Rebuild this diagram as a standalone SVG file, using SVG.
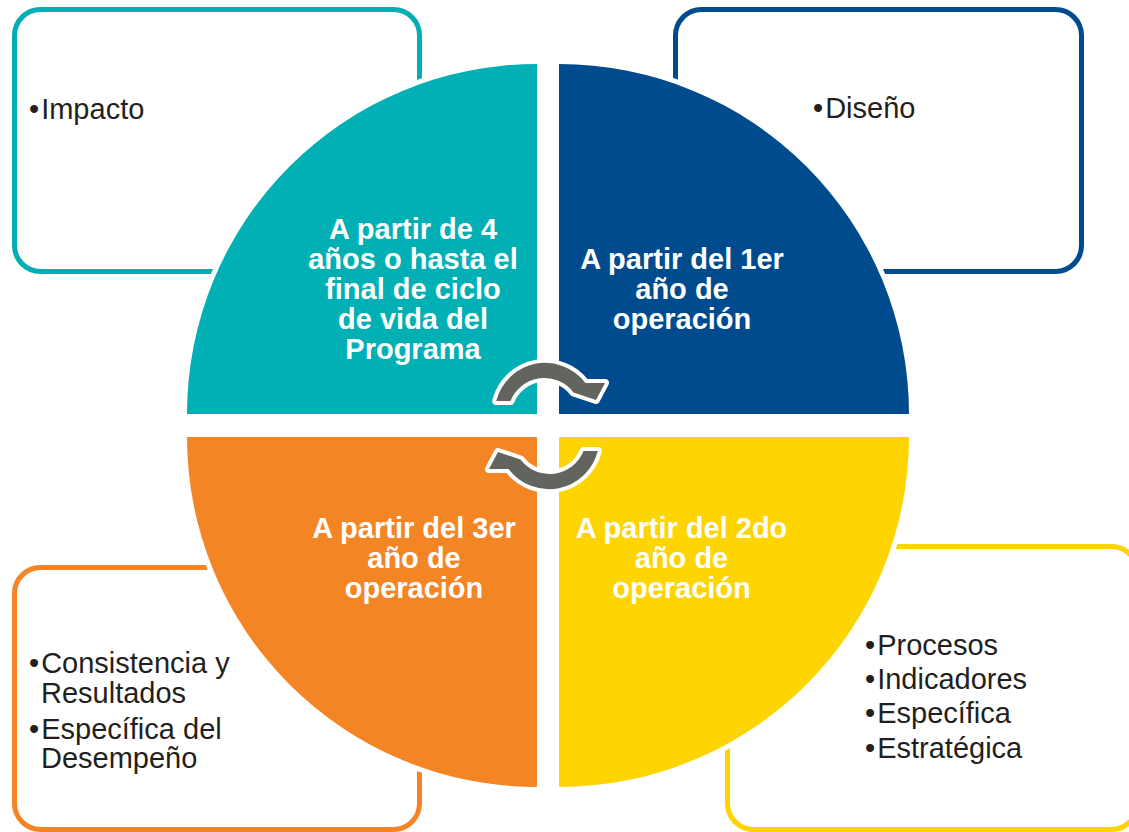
<svg xmlns="http://www.w3.org/2000/svg" width="1129" height="832" viewBox="0 0 1129 832">
<style>
.box{fill:#fff;stroke-width:5}
.q{stroke:#fff;stroke-width:10;paint-order:stroke}
.qt{font-family:"Liberation Sans",Arial,sans-serif;font-weight:bold;font-size:29px;fill:#fff;text-anchor:middle}
.bt{font-family:"Liberation Sans",Arial,sans-serif;font-size:29px;fill:#231f20}
.arr{fill:#62645e;stroke:#fff;stroke-width:8;stroke-linejoin:round;paint-order:stroke}
</style>
<rect width="1129" height="832" fill="#fff"/>
<g id="box-impacto">
<rect class="box" x="14.5" y="9.5" width="405" height="262" rx="26" stroke="#00aeb3"/>
<text class="bt" x="29" y="119">•<tspan dx="2">Impacto</tspan></text>
</g>
<g id="box-diseno">
<rect class="box" x="675.5" y="9.5" width="406" height="262" rx="26" stroke="#004b8d"/>
<text class="bt" x="813" y="118">•<tspan dx="2">Diseño</tspan></text>
</g>
<g id="box-consistencia">
<rect class="box" x="14.5" y="567.5" width="405" height="262" rx="26" stroke="#f58426"/>
<text class="bt" x="29" y="673">•<tspan dx="2">Consistencia y</tspan><tspan x="41" y="703">Resultados</tspan></text>
<text class="bt" x="29" y="739">•<tspan dx="2">Específica del</tspan><tspan x="41" y="768">Desempeño</tspan></text>
</g>
<g id="box-procesos">
<rect class="box" x="727.5" y="546.5" width="410" height="283" rx="26" stroke="#ffd200"/>
<text class="bt" x="865" y="655">•<tspan dx="2">Procesos</tspan></text>
<text class="bt" x="865" y="689">•<tspan dx="2">Indicadores</tspan></text>
<text class="bt" x="865" y="723">•<tspan dx="2">Específica</tspan></text>
<text class="bt" x="865" y="758">•<tspan dx="2">Estratégica</tspan></text>
</g>
<g id="q-4anos">
<path class="q" d="M537,414 L187,414 A350,350 0 0 1 537,64 Z" fill="#00b0b5"/>
<text class="qt" x="413" y="239">A partir de 4</text>
<text class="qt" x="413" y="269">años o hasta el</text>
<text class="qt" x="413" y="299">final de ciclo</text>
<text class="qt" x="413" y="329">de vida del</text>
<text class="qt" x="413" y="359">Programa</text>
</g>
<g id="q-1er">
<path class="q" d="M559,414 L559,64 A350,350 0 0 1 909,414 Z" fill="#004b8d"/>
<text class="qt" x="682" y="269">A partir del 1er</text>
<text class="qt" x="682" y="299">año de</text>
<text class="qt" x="682" y="329">operación</text>
</g>
<g id="q-2do">
<path class="q" d="M559,437 L909,437 A350,350 0 0 1 559,787 Z" fill="#fed401"/>
<text class="qt" x="681.5" y="538">A partir del 2do</text>
<text class="qt" x="681.5" y="568">año de</text>
<text class="qt" x="681.5" y="598">operación</text>
</g>
<g id="q-3er">
<path class="q" d="M537,437 L537,787 A350,350 0 0 1 187,437 Z" fill="#f48524"/>
<text class="qt" x="414" y="538">A partir del 3er</text>
<text class="qt" x="414" y="568">año de</text>
<text class="qt" x="414" y="598">operación</text>
</g>
<g id="connectors">
<path id="arrow-top" class="arr" d="M496.2,401 A50.5,50.5 0 0 1 585.5,383 L605,383 L596,400 L573.5,392.5 A36.5,36.5 0 0 0 510.5,401 Z"/>
<path id="arrow-bottom" class="arr" transform="rotate(180 547 426)" d="M496.2,401 A50.5,50.5 0 0 1 585.5,383 L605,383 L596,400 L573.5,392.5 A36.5,36.5 0 0 0 510.5,401 Z"/>
</g>
</svg>
